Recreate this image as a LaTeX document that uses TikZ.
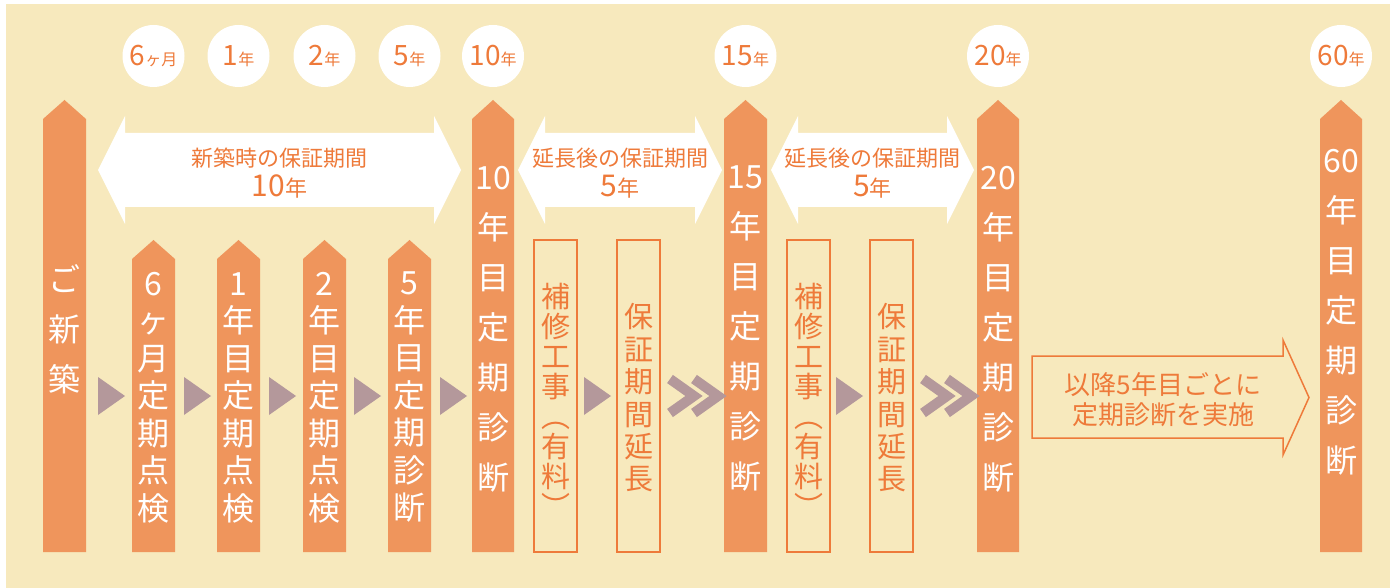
\documentclass[tikz,border=0pt]{standalone}
\usepackage{fontspec}
\setmainfont{Noto Sans CJK JP}
\definecolor{cream}{HTML}{F7E9BD}
\definecolor{pillarorange}{HTML}{EF955C}
\definecolor{textorange}{HTML}{EE7A3A}
\definecolor{mauve}{HTML}{B4989B}
\newcommand\yrnum[1]{{\fontsize{28}{28}\selectfont #1}}
\newcommand\yrunit[1]{{\fontsize{16}{16}\selectfont #1}}
\newcommand\spannum[1]{{\fontsize{30}{30}\selectfont #1}}
\begin{document}
\begin{tikzpicture}[x=1pt,y=-1pt,
    pillar/.style={fill=pillarorange},
    outlinebox/.style={draw=textorange,line width=1.3pt},
    yearcircle/.style={circle,fill=white,minimum size=62pt,inner sep=0pt,text=textorange},
    bigtext/.style={text=white,align=center,inner sep=0pt,font=\fontsize{32}{50}\selectfont},
    smalltext/.style={text=white,align=center,inner sep=0pt,font=\fontsize{32}{37.5}\selectfont},
    boxtext/.style={text=textorange,align=center,inner sep=0pt,font=\fontsize{29}{30}\selectfont},
    spantext/.style={text=textorange,align=center,inner sep=0pt,font=\fontsize{22}{30}\selectfont},
    tri/.style={fill=mauve},
    chevron/.style={draw=mauve,line width=10pt}]
\useasboundingbox (0,0) rectangle (1390,588);
\fill[white] (0,0) rectangle (1390,588);
\fill[cream] (6,4) rectangle (1390,588);

\node[yearcircle] (y6m) at (153.5,56) {\yrnum{6}\yrunit{ヶ月}};
\node[yearcircle] (y1) at (238.5,56) {\yrnum{1}\yrunit{年}};
\node[yearcircle] (y2) at (324.5,56) {\yrnum{2}\yrunit{年}};
\node[yearcircle] (y5) at (409.5,56) {\yrnum{5}\yrunit{年}};
\node[yearcircle] (y10) at (493,56) {\yrnum{10}\yrunit{年}};
\node[yearcircle] (y15) at (745.5,56) {\yrnum{15}\yrunit{年}};
\node[yearcircle] (y20) at (998,56) {\yrnum{20}\yrunit{年}};
\node[yearcircle] (y60) at (1341,56) {\yrnum{60}\yrunit{年}};

\fill[white] (98,170) -- (125,116) -- (125,133) -- (434,133) -- (434,116) -- (461,170)
  -- (434,224) -- (434,207) -- (125,207) -- (125,224) -- cycle;
\fill[white] (518,170) -- (545,116) -- (545,133) -- (695,133) -- (695,116) -- (722,170)
  -- (695,224) -- (695,207) -- (545,207) -- (545,224) -- cycle;
\fill[white] (771,170) -- (798,116) -- (798,133) -- (947,133) -- (947,116) -- (974,170)
  -- (947,224) -- (947,207) -- (798,207) -- (798,224) -- cycle;
\node[spantext] (span10) at (279.5,173) {新築時の保証期間\\\spannum{10}年};
\node[spantext] (span15) at (620,173) {延長後の保証期間\\\spannum{5}年};
\node[spantext] (span20) at (872.5,173) {延長後の保証期間\\\spannum{5}年};

\fill[pillar] (43,552) -- (43,119) -- (64.5,100) -- (86,119) -- (86,552) -- cycle;
\fill[pillar] (132,552) -- (132,259) -- (153.5,240) -- (175,259) -- (175,552) -- cycle;
\fill[pillar] (217,552) -- (217,259) -- (238.5,240) -- (260,259) -- (260,552) -- cycle;
\fill[pillar] (303,552) -- (303,259) -- (324.5,240) -- (346,259) -- (346,552) -- cycle;
\fill[pillar] (388,552) -- (388,259) -- (409.5,240) -- (431,259) -- (431,552) -- cycle;
\fill[pillar] (472,552) -- (472,119) -- (493,100) -- (514,119) -- (514,552) -- cycle;
\fill[pillar] (724,552) -- (724,119) -- (745.5,100) -- (767,119) -- (767,552) -- cycle;
\fill[pillar] (977,552) -- (977,119) -- (998,100) -- (1019,119) -- (1019,552) -- cycle;
\fill[pillar] (1320,552) -- (1320,119) -- (1341,100) -- (1362,119) -- (1362,552) -- cycle;

\draw[outlinebox] (534,240) rectangle (577,552);
\draw[outlinebox] (617,240) rectangle (660,552);
\draw[outlinebox] (787,240) rectangle (830,552);
\draw[outlinebox] (870,240) rectangle (913,552);

\node[bigtext] (shinchiku) at (64.5,329) {ご\\新\\築};
\node[smalltext] (check6m) at (153.5,397.5) {6\\ヶ\\月\\定\\期\\点\\検};
\node[smalltext] (check1) at (238.5,397.5) {1\\年\\目\\定\\期\\点\\検};
\node[smalltext] (check2) at (324.5,397.5) {2\\年\\目\\定\\期\\点\\検};
\node[smalltext] (diag5) at (409.5,397.5) {5\\年\\目\\定\\期\\診\\断};
\node[bigtext] (diag10) at (493,329) {10\\年\\目\\定\\期\\診\\断};
\node[bigtext] (diag15) at (745.5,329) {15\\年\\目\\定\\期\\診\\断};
\node[bigtext] (diag20) at (998,329) {20\\年\\目\\定\\期\\診\\断};
\node[bigtext] (diag60) at (1341,312) {60\\年\\目\\定\\期\\診\\断};
\node[boxtext] (repair1) at (555.5,400) {補\\修\\工\\事\\︵\\有\\料\\︶};
\node[boxtext,font=\fontsize{29}{32.4}\selectfont] (extend1) at (638.5,398) {保\\証\\期\\間\\延\\長};
\node[boxtext] (repair2) at (808.5,400) {補\\修\\工\\事\\︵\\有\\料\\︶};
\node[boxtext,font=\fontsize{29}{32.4}\selectfont] (extend2) at (891.5,398) {保\\証\\期\\間\\延\\長};

\fill[tri] (98,377) -- (125,396) -- (98,415) -- cycle;
\fill[tri] (184,377) -- (211,396) -- (184,415) -- cycle;
\fill[tri] (269,377) -- (296,396) -- (269,415) -- cycle;
\fill[tri] (354,377) -- (381,396) -- (354,415) -- cycle;
\fill[tri] (440,377) -- (467,396) -- (440,415) -- cycle;
\fill[tri] (584,377) -- (611,396) -- (584,415) -- cycle;
\fill[tri] (836,377) -- (863,396) -- (836,415) -- cycle;
\draw[chevron] (670,379) -- (694,396) -- (670,413);
\draw[chevron] (694,379) -- (718,396) -- (694,413);
\draw[chevron] (923,379) -- (947,396) -- (923,413);
\draw[chevron] (947,379) -- (971,396) -- (947,413);

\draw[outlinebox,line width=1.5pt] (1032,356) -- (1283,356) -- (1283,340) -- (1309,397.5)
  -- (1283,455) -- (1283,438) -- (1032,438) -- cycle;
\node[spantext,font=\fontsize{26}{30}\selectfont] (every5) at (1163,400) {以降5年目ごとに\\定期診断を実施};
\end{tikzpicture}
\end{document}
